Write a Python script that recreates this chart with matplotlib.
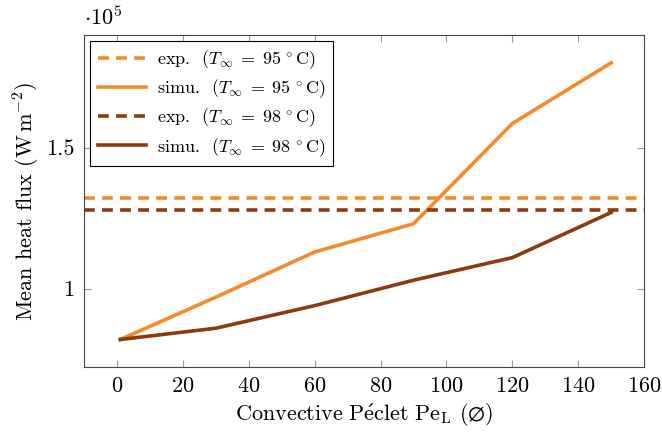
import matplotlib
matplotlib.use("Agg")
import matplotlib.pyplot as plt

plt.rcParams['font.family'] = 'serif'
plt.rcParams['font.serif'] = ['cmr10']
plt.rcParams['mathtext.fontset'] = 'cm'
plt.rcParams['axes.formatter.use_mathtext'] = True

# data (heat flux in units of 1e5 W/m2)
pe = [1, 30, 60, 90, 120, 150]
simu_95 = [0.82, 0.97, 1.13, 1.23, 1.585, 1.80]
simu_98 = [0.82, 0.86, 0.94, 1.03, 1.11, 1.27]
exp_95 = 1.32
exp_98 = 1.28

xticks = [0, 20, 40, 60, 80, 100, 120, 140, 160]
yticks = [1, 1.5]

orange = '#F58A2C'
brown = '#8C3A0F'

fig = plt.figure(figsize=(6.62, 4.34), dpi=100)
ax = fig.add_axes([0.127, 0.154, 0.846, 0.765])

lab = r'%s  ($T_\infty \;=\; %d\,^\circ$C)'
ax.axhline(exp_95, color=orange, lw=2.6, ls=(0, (3, 2)), label=lab % ('exp.', 95))
ax.plot(pe, simu_95, color=orange, lw=2.6, label=lab % ('simu.', 95))
ax.axhline(exp_98, color=brown, lw=2.6, ls=(0, (3, 2)), label=lab % ('exp.', 98))
ax.plot(pe, simu_98, color=brown, lw=2.6, label=lab % ('simu.', 98))

ax.set_xlim(-10, 160)
ax.set_ylim(0.722, 1.898)
ax.set_xticks(xticks)
ax.set_yticks(yticks)
ax.set_yticklabels(['1', '1.5'])
ax.tick_params(direction='in', top=True, right=True, length=5, color='#999999', labelsize=16, pad=7)
for s in ax.spines.values():
    s.set_color('#444444')
    s.set_linewidth(0.8)

ax.set_xlabel(r'$\mathrm{Convective\ P\acute{e}clet\ Pe_L}$ ($\varnothing$)', fontsize=16, labelpad=4)
ax.set_ylabel(r'Mean heat flux (W$\,$m$^{-2}$)', fontsize=16, labelpad=3)
ax.text(0.0, 1.02, r'$\cdot 10^5$', transform=ax.transAxes, fontsize=16, ha='left', va='bottom')

leg = ax.legend(loc='upper left', fontsize=13, fancybox=False, framealpha=1,
                edgecolor='black', handlelength=2.7, borderpad=0.4, labelspacing=0.35,
                handletextpad=0.6, borderaxespad=0.35, bbox_to_anchor=(0.0, 1.0))
leg.get_frame().set_linewidth(0.8)

fig.savefig('out.png', dpi=100)
